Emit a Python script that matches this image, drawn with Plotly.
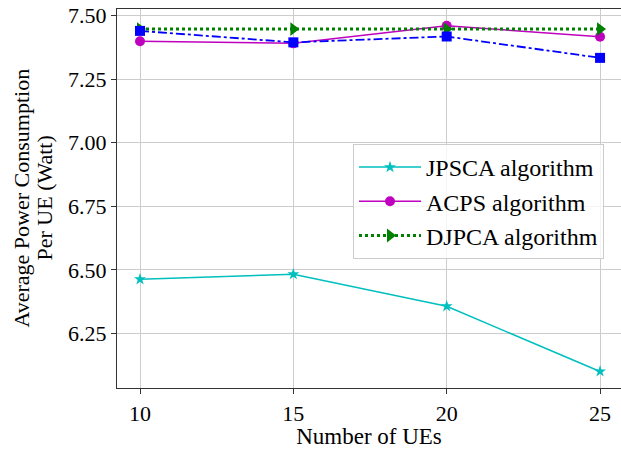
import plotly.graph_objects as go

num_ues = [10, 15, 20, 25]
jpsca = [6.463, 6.483, 6.357, 6.101]
acps = [7.398, 7.390, 7.459, 7.416]
djpca = [7.446, 7.446, 7.446, 7.446]
other = [7.439, 7.394, 7.417, 7.333]
y_ticks = [6.25, 6.50, 6.75, 7.00, 7.25, 7.50]

font_family = "Liberation Serif, Times New Roman, serif"
L, R, T, B = 117, 0, 9, 61
W, H = 621, 449
PW = W - L - R

fig = go.Figure()
fig.add_trace(go.Scatter(x=num_ues, y=jpsca, mode="lines+markers", name="JPSCA algorithm",
                         line=dict(color="#00BFBF", width=1.5),
                         marker=dict(symbol="star", size=9, color="#00BFBF")))
fig.add_trace(go.Scatter(x=num_ues, y=acps, mode="lines+markers", name="ACPS algorithm",
                         line=dict(color="#BF00BF", width=1.5),
                         marker=dict(symbol="circle", size=10, color="#BF00BF")))
fig.add_trace(go.Scatter(x=num_ues, y=djpca, mode="lines+markers", name="DJPCA algorithm",
                         line=dict(color="#008000", width=3, dash="dot"),
                         marker=dict(symbol="triangle-right", size=12, color="#008000")))
fig.add_trace(go.Scatter(x=num_ues, y=other, mode="lines+markers", name="Other algorithm",
                         showlegend=False,
                         line=dict(color="#0000FF", width=1.8, dash="dashdot"),
                         marker=dict(symbol="square", size=10, color="#0000FF")))

fig.update_layout(
    width=W, height=H,
    margin=dict(l=L, r=R, t=T, b=B),
    paper_bgcolor="white", plot_bgcolor="white",
    font=dict(family=font_family, size=22, color="black"),
    legend=dict(x=(353 - L) / PW, y=(388 - 144) / (H - T - B), xanchor="left", yanchor="top",
                bgcolor="rgba(255,255,255,0.8)", bordercolor="#cccccc", borderwidth=1,
                font=dict(size=24, family=font_family), tracegroupgap=0, itemwidth=62),
    annotations=[
        dict(text="Average Power Consumption", xref="paper", yref="paper",
             x=(21 - L) / PW, y=0.5, xanchor="center", yanchor="middle",
             textangle=-90, showarrow=False, font=dict(size=22, family=font_family)),
        dict(text="Per UE (Watt)", xref="paper", yref="paper",
             x=(44 - L) / PW, y=0.5, xanchor="center", yanchor="middle",
             textangle=-90, showarrow=False, font=dict(size=22, family=font_family)),
    ],
)
fig.update_xaxes(range=[9.25, 9.25 + PW / 30.67], tickvals=num_ues, ticks="outside", ticklen=5,
                 tickcolor="#333333", automargin=False,
                 showline=True, mirror=True, linecolor="#333333", linewidth=1.2,
                 showgrid=True, gridcolor="#cccccc", gridwidth=1, zeroline=False,
                 title=dict(text="Number of UEs", font=dict(size=23), standoff=6),
                 tickfont=dict(size=22))
fig.update_yaxes(range=[6.036, 7.525], tickvals=y_ticks, tickformat=".2f", ticks="outside", ticklen=5,
                 tickcolor="#333333", automargin=False,
                 showline=True, mirror=False, linecolor="#333333", linewidth=1.2,
                 showgrid=True, gridcolor="#cccccc", gridwidth=1, zeroline=False,
                 tickfont=dict(size=22))

fig.write_html("out.html", config={"displayModeBar": False},
               post_script="document.body.style.margin='0';document.body.style.overflow='hidden';")
